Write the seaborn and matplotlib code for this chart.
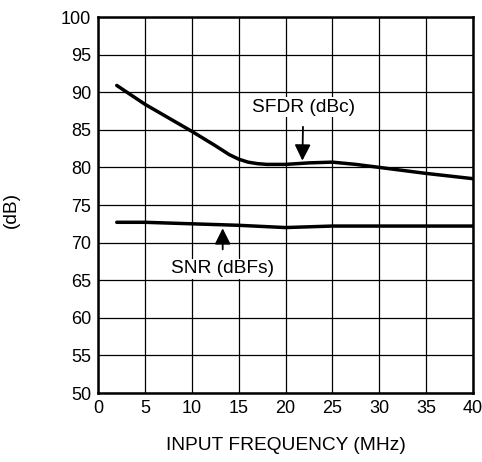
import numpy as np
import pandas as pd
import matplotlib
matplotlib.use("Agg")
import matplotlib.pyplot as plt
import seaborn as sns

# values
sfdr_freq = [2, 5, 7.5, 10, 12.5, 14, 15, 16, 17, 18, 20, 22.5, 25, 27.5, 30, 35, 40]
sfdr_db = [90.9, 88.4, 86.6, 84.8, 82.9, 81.7, 81.1, 80.7, 80.5, 80.4, 80.4, 80.6, 80.7, 80.4, 80.0, 79.2, 78.5]
snr_freq = [2, 5, 10, 15, 20, 22.5, 25, 30, 35, 40]
snr_db = [72.7, 72.7, 72.5, 72.3, 72.0, 72.1, 72.2, 72.2, 72.2, 72.2]

xticks = [0, 5, 10, 15, 20, 25, 30, 35, 40]
yticks = [50, 55, 60, 65, 70, 75, 80, 85, 90, 95, 100]

df = pd.concat([
    pd.DataFrame({"freq": sfdr_freq, "db": sfdr_db, "series": "SFDR (dBc)"}),
    pd.DataFrame({"freq": snr_freq, "db": snr_db, "series": "SNR (dBFs)"}),
])

sns.set_style("white")
plt.rcParams["font.family"] = ["Liberation Sans", "DejaVu Sans"]
plt.rcParams["text.color"] = "black"
plt.rcParams["axes.labelcolor"] = "black"

fig = plt.figure(figsize=(4.82, 4.62), dpi=100)
ax = fig.add_axes([98 / 482, 1 - 393 / 462, 375 / 482, 376 / 462])

sns.lineplot(data=df, x="freq", y="db", hue="series", palette=["black", "black"],
             linewidth=2.5, legend=False, ax=ax, zorder=3)

ax.set_xlim(0, 40)
ax.set_ylim(50, 100)
ax.set_xticks(xticks)
ax.set_yticks(yticks)
ax.tick_params(labelsize=13, length=0, pad=5, colors="black")
ax.grid(True, color="black", linewidth=0.9, zorder=1)
ax.set_axisbelow(True)
for s in ax.spines.values():
    s.set_linewidth(1.8)
    s.set_color("black")

ax.set_xlabel("INPUT FREQUENCY (MHz)", fontsize=13.8)
ax.set_ylabel("(dB)", fontsize=13.8)
ax.xaxis.set_label_coords((286 - 98) / 375, -(437 - 393) / 376)
ax.yaxis.set_label_coords(-(98 - 20) / 375, (393 - 210) / 376)

# annotations
arrow = dict(arrowstyle="-|>,head_length=0.7,head_width=0.35",
             color="black", lw=1.3, shrinkA=7, shrinkB=0)
ax.annotate("SFDR (dBc)", xy=(21.8, 80.9), xytext=(21.9, 88.0),
            ha="center", va="center", fontsize=13.8,
            bbox=dict(fc="white", ec="none", pad=1),
            arrowprops=arrow, zorder=4)
ax.annotate("SNR (dBFs)", xy=(13.3, 71.9), xytext=(13.3, 66.5),
            ha="center", va="center", fontsize=13.8,
            bbox=dict(fc="white", ec="none", pad=1),
            arrowprops=arrow, zorder=4)

fig.savefig("out.png", dpi=100)
